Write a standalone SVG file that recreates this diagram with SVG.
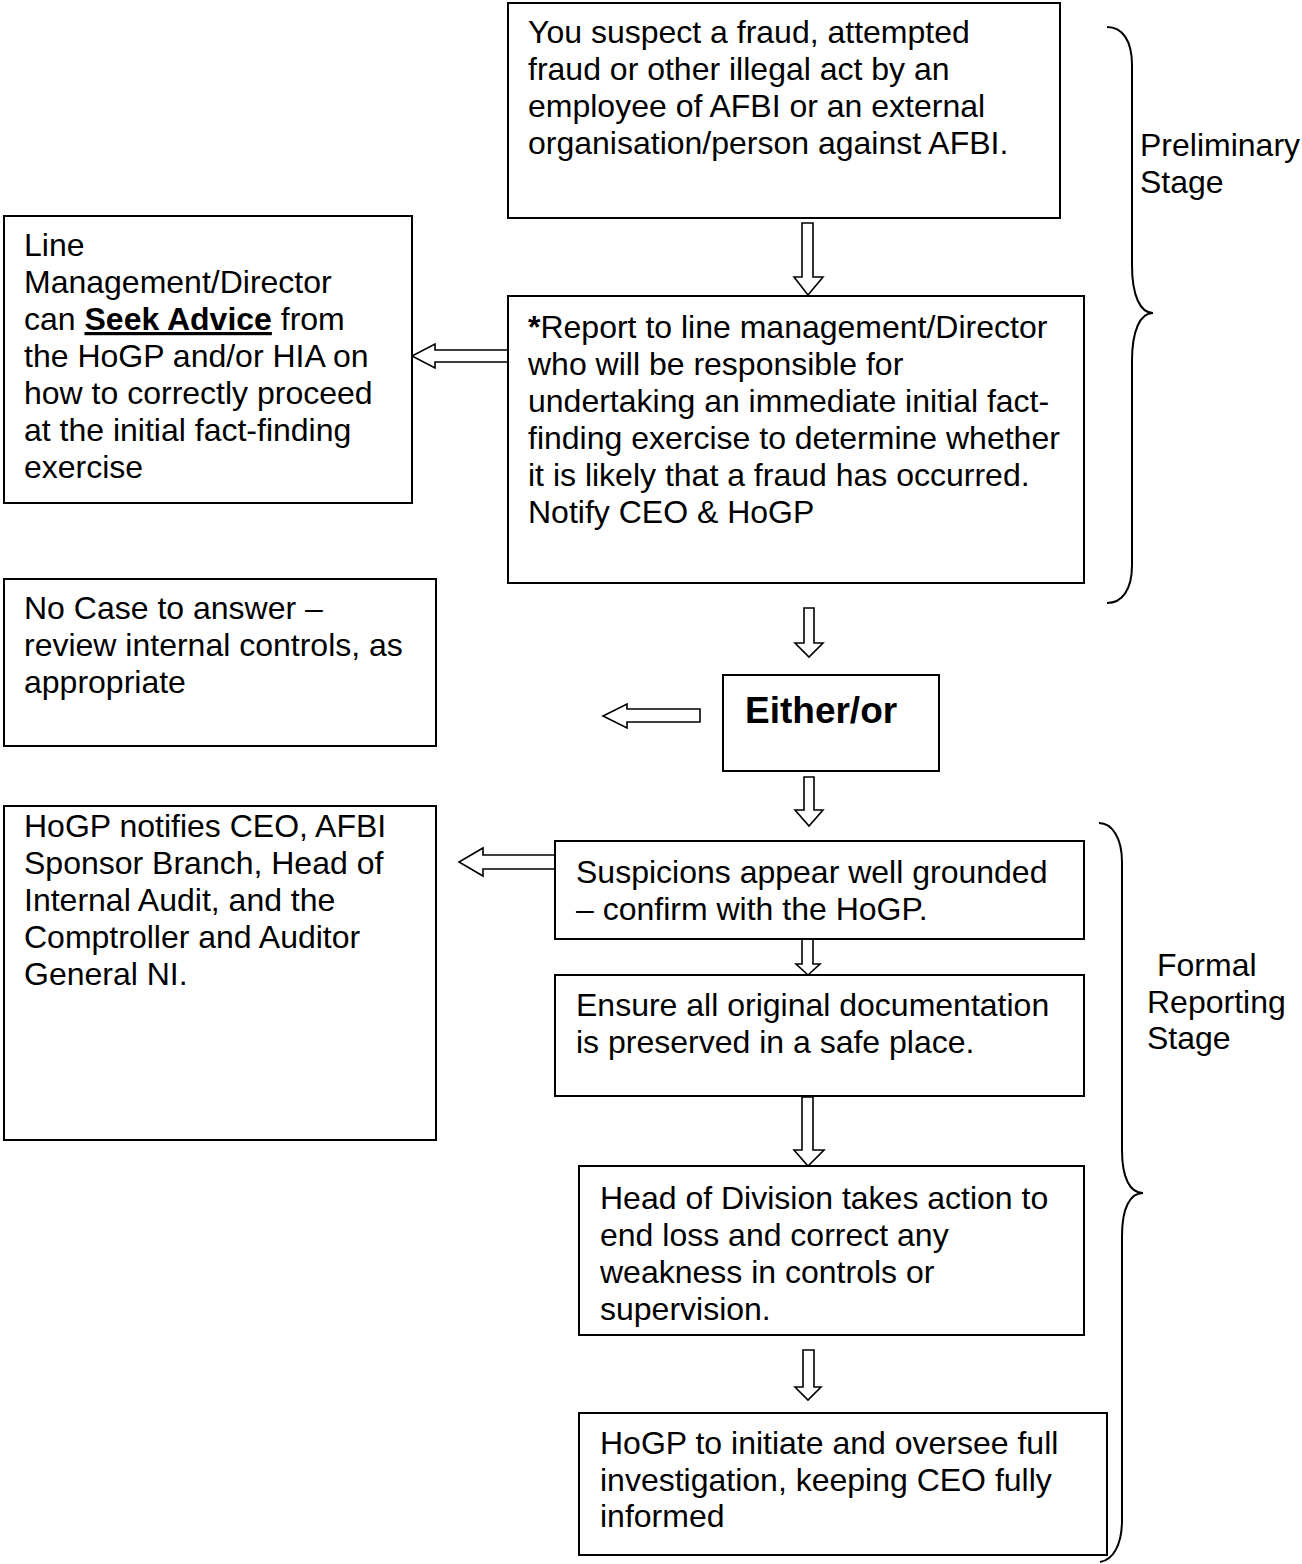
<svg xmlns="http://www.w3.org/2000/svg" width="1302" height="1564" viewBox="0 0 1302 1564">
<style>
.box{fill:#fff;stroke:#000;stroke-width:2}
.arr{fill:#fff;stroke:#000;stroke-width:1.6;stroke-linejoin:miter}
.br{fill:none;stroke:#000;stroke-width:2}
text{font-family:"Liberation Sans",Arial,sans-serif;font-size:32px;fill:#000}
.b{font-weight:bold}
</style>
<rect width="1302" height="1564" fill="#fff"/>
<g id="connectors">
<polygon class="arr" points="802,223 813,223 813,277 823,277 808,295 794,277 802,277"/>
<polygon class="arr" points="508,350 435,350 435,344 412,356 435,368 435,362 508,362"/>
<polygon class="arr" points="804,608 814,608 814,643 823,643 809,657 795,643 804,643"/>
<polygon class="arr" points="700,709 627,709 627,704 603,716 627,728 627,722 700,722"/>
<polygon class="arr" points="804,777 814,777 814,810 823,810 809,826 795,810 804,810"/>
<polygon class="arr" points="555,855 483,855 483,848 459,862 483,876 483,869 555,869"/>
<polygon class="arr" points="802,939 813,939 813,964 820,964 808,975 796,964 802,964"/>
<polygon class="arr" points="802,1097 813,1097 813,1150 824,1150 808,1166 794,1150 802,1150"/>
<polygon class="arr" points="803,1350 814,1350 814,1387 821,1387 808,1400 795,1387 803,1387"/>
</g>
<g id="brace-preliminary">
<path class="br" d="M1107,27 C1122,27 1132,40 1132,65 L1132,265 C1132,295 1140,313 1153,313 C1140,313 1132,331 1132,361 L1132,565 C1132,590 1122,603 1107,603"/>
<text x="1140" y="156">Preliminary</text>
<text x="1140" y="193">Stage</text>
</g>
<g id="brace-formal">
<path class="br" d="M1099,823 C1112,823 1122,838 1122,862 L1122,1150 C1122,1178 1130,1193 1143,1193 C1130,1193 1122,1208 1122,1236 L1122,1520 C1122,1545 1113,1560 1100,1562"/>
<text x="1157" y="976">Formal</text>
<text x="1147" y="1013">Reporting</text>
<text x="1147" y="1049">Stage</text>
</g>
<g id="node-suspect">
<rect class="box" x="508" y="3" width="552" height="215"/>
<text x="528" y="43">You suspect a fraud, attempted</text>
<text x="528" y="80">fraud or other illegal act by an</text>
<text x="528" y="117">employee of AFBI or an external</text>
<text x="528" y="154">organisation/person against AFBI.</text>
</g>
<g id="node-report">
<rect class="box" x="508" y="296" width="576" height="287"/>
<text x="528" y="338"><tspan class="b">*</tspan>Report to line management/Director</text>
<text x="528" y="375">who will be responsible for</text>
<text x="528" y="412">undertaking an immediate initial fact-</text>
<text x="528" y="449">finding exercise to determine whether</text>
<text x="528" y="486">it is likely that a fraud has occurred.</text>
<text x="528" y="523">Notify CEO &amp; HoGP</text>
</g>
<g id="node-advice">
<rect class="box" x="4" y="216" width="408" height="287"/>
<text x="24" y="256">Line</text>
<text x="24" y="293">Management/Director</text>
<text x="24" y="330">can <tspan class="b" text-decoration="underline">Seek Advice</tspan> from</text>
<text x="24" y="367">the HoGP and/or HIA on</text>
<text x="24" y="404">how to correctly proceed</text>
<text x="24" y="441">at the initial fact-finding</text>
<text x="24" y="478">exercise</text>
</g>
<g id="node-nocase">
<rect class="box" x="4" y="579" width="432" height="167"/>
<text x="24" y="619">No Case to answer –</text>
<text x="24" y="656">review internal controls, as</text>
<text x="24" y="693">appropriate</text>
</g>
<g id="node-either">
<rect class="box" x="723" y="675" width="216" height="96"/>
<text x="745" y="723" class="b" style="font-size:37px">Either/or</text>
</g>
<g id="node-notifies">
<rect class="box" x="4" y="806" width="432" height="334"/>
<text x="24" y="837">HoGP notifies CEO, AFBI</text>
<text x="24" y="874">Sponsor Branch, Head of</text>
<text x="24" y="911">Internal Audit, and the</text>
<text x="24" y="948">Comptroller and Auditor</text>
<text x="24" y="985">General NI.</text>
</g>
<g id="node-suspicions">
<rect class="box" x="555" y="841" width="529" height="98"/>
<text x="576" y="883">Suspicions appear well grounded</text>
<text x="576" y="920">– confirm with the HoGP.</text>
</g>
<g id="node-ensure">
<rect class="box" x="555" y="975" width="529" height="121"/>
<text x="576" y="1016">Ensure all original documentation</text>
<text x="576" y="1053">is preserved in a safe place.</text>
</g>
<g id="node-division">
<rect class="box" x="579" y="1166" width="505" height="169"/>
<text x="600" y="1209">Head of Division takes action to</text>
<text x="600" y="1246">end loss and correct any</text>
<text x="600" y="1283">weakness in controls or</text>
<text x="600" y="1320">supervision.</text>
</g>
<g id="node-investigate">
<rect class="box" x="579" y="1413" width="528" height="142"/>
<text x="600" y="1454">HoGP to initiate and oversee full</text>
<text x="600" y="1491">investigation, keeping CEO fully</text>
<text x="600" y="1527">informed</text>
</g>
</svg>
